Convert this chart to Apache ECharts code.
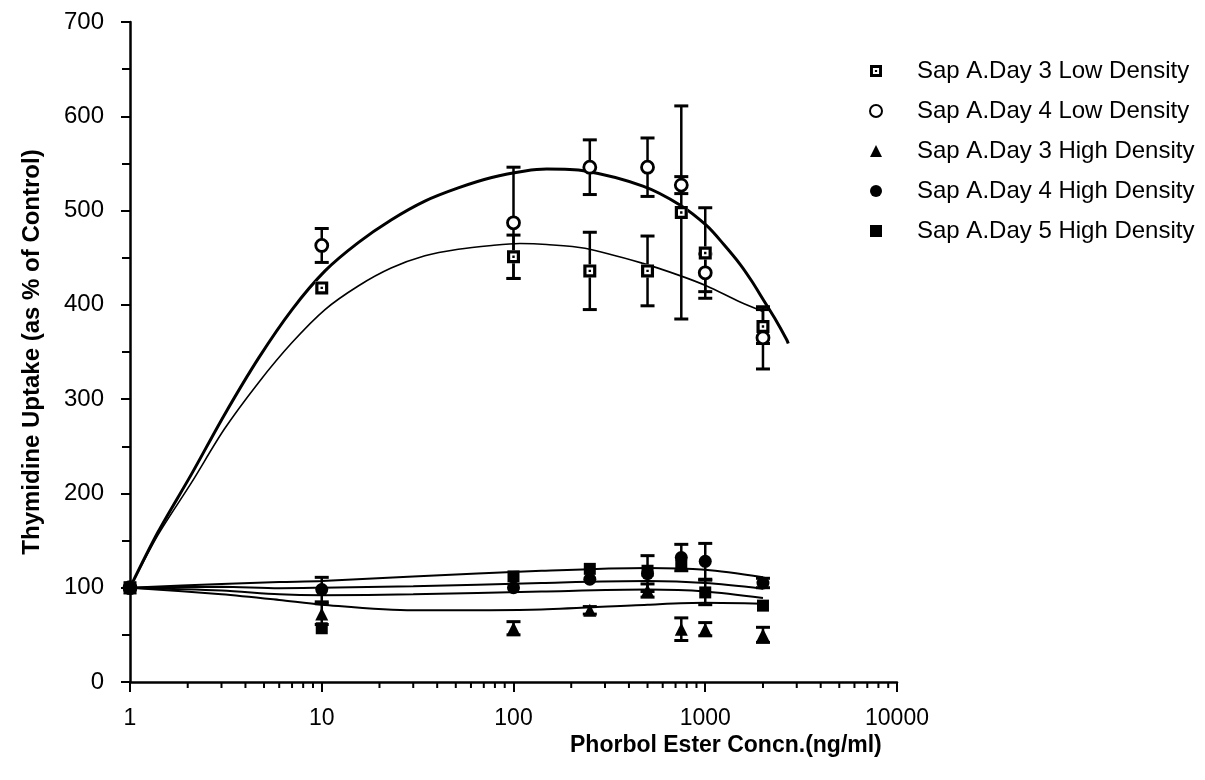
<!DOCTYPE html>
<html>
<head>
<meta charset="utf-8">
<script src="https://cdn.jsdelivr.net/npm/echarts@6/dist/echarts.min.js"></script>
<style>
  html, body { margin: 0; padding: 0; background: #fff; }
  #chart { width: 1205px; height: 780px; }
</style>
</head>
<body>
<div id="chart"></div>
<script>
// Phorbol ester concentrations (ng/ml)
const concentrations = [1, 10, 100, 250, 500, 750, 1000, 2000];

// Thymidine uptake (% of control) and error half-widths per series
const day3Low     = [100, 418, 451, 436, 436, 498, 455, 377];
const day3LowErr  = [0, 0, 23, 41, 37, 113, 48, 18];
const day4Low     = [100, 463, 487, 546, 546, 527, 434, 365];
const day4LowErr  = [0, 18, 59, 29, 31, 9, 20, 33];
const day3High    = [100, 72, 57, 76, 97, 56, 56, 50];
const day3HighErr = [0, 11, 7, 4, 7, 12, 7, 8];
const day4High    = [100, 98, 100, 109, 115, 132, 128, 105];
const day4HighErr = [0, 13, 0, 0, 19, 14, 19, 5];
const day5High    = [100, 57, 112, 120, 118, 123, 95, 81];
const day5HighErr = [0, 0, 0, 0, 0, 0, 13, 0];

// Fitted curves
const fitDay4LowX = [1, 1.4, 2.1, 3.1, 4.7, 7, 10.4, 15.5, 23, 34.5, 51.5, 77, 115, 149, 236, 473, 738, 1018, 1250, 1520, 1750, 2000, 2300, 2660, 2710];
const fitDay4LowY = [100, 159, 221, 283, 344, 395, 436, 466, 490, 510, 524, 535, 542, 544, 542, 526, 506, 484, 464, 443, 425, 406, 386, 363, 359];
const fitDay3LowX = [1, 1.4, 2.1, 3.1, 4.7, 7, 10.4, 15.5, 23, 34.5, 51.5, 77, 108, 149, 236, 473, 738, 1018, 1520, 2000];
const fitDay3LowY = [100, 156, 212, 268, 318, 360, 395, 420, 439, 452, 459, 463, 465, 464, 460, 444, 431, 420, 403, 393];
const fitHighX  = [1, 3, 6, 10, 30, 140, 500, 1000, 2000];
const fitHighA  = [100, 104, 106, 107, 112, 118, 121, 119, 111];
const fitHighB  = [100, 101, 99.5, 100, 101.5, 105, 107, 105, 99];
const fitHighC  = [100, 97, 93, 92, 93, 96, 98, 96, 89];
const fitHighD  = [100, 93, 87, 82, 76, 77, 82, 84, 83];

// Axis ticks
const yTicks = [0, 100, 200, 300, 400, 500, 600, 700];
const xMinorTicks = [2, 3, 4, 5, 6, 7, 8, 9, 20, 30, 40, 50, 60, 70, 80, 90,
  200, 300, 400, 500, 600, 700, 800, 900, 2000, 3000, 4000, 5000, 6000, 7000, 8000, 9000];

const names = [
  'Sap A.Day 3 Low Density',
  'Sap A.Day 4 Low Density',
  'Sap A.Day 3 High Density',
  'Sap A.Day 4 High Density',
  'Sap A.Day 5 High Density'
];

const FONT = 'Liberation Sans, Arial, Helvetica, sans-serif';
const squareDot = 'path://M0,0H13V13H0Z M3.2,3.2V9.8H9.8V3.2Z M5.3,5.3H7.7V7.7H5.3Z';

const pairs = (xs, ys) => xs.map((x, i) => [x, ys[i]]);
const errData = (ys, es) => concentrations
  .map((x, i) => [x, ys[i] - es[i], ys[i] + es[i], es[i]])
  .filter(d => d[3] > 0);

function errorBars(ys, es) {
  return {
    type: 'custom',
    silent: true,
    z: 3,
    data: errData(ys, es),
    encode: { x: 0, y: [1, 2] },
    renderItem: (params, api) => {
      const x = api.value(0);
      const lo = api.coord([x, api.value(1)]);
      const hi = api.coord([x, api.value(2)]);
      const hw = 7;
      return {
        type: 'group',
        children: [
          { type: 'line', shape: { x1: lo[0], y1: lo[1], x2: hi[0], y2: hi[1] }, style: { stroke: '#000', lineWidth: 2.5 } },
          { type: 'line', shape: { x1: hi[0] - hw, y1: hi[1], x2: hi[0] + hw, y2: hi[1] }, style: { stroke: '#000', lineWidth: 3 } },
          { type: 'line', shape: { x1: lo[0] - hw, y1: lo[1], x2: lo[0] + hw, y2: lo[1] }, style: { stroke: '#000', lineWidth: 3 } }
        ]
      };
    }
  };
}

function fitLine(xs, ys, width) {
  return {
    type: 'line',
    data: pairs(xs, ys),
    smooth: 0.3,
    showSymbol: false,
    symbol: 'none',
    silent: true,
    z: 2,
    lineStyle: { color: '#000', width: width, opacity: 1 }
  };
}

function markers(name, symbol, size, style, ys) {
  return {
    name: name,
    type: 'scatter',
    z: 5,
    symbol: symbol,
    symbolSize: size,
    itemStyle: Object.assign({ opacity: 1 }, style),
    data: pairs(concentrations, ys)
  };
}

const chart = echarts.init(document.getElementById('chart'), null, { renderer: 'canvas' });

chart.setOption({
  animation: false,
  backgroundColor: '#fff',
  textStyle: { fontFamily: FONT, color: '#000' },
  title: {
    text: 'Phorbol Ester Concn.(ng/ml)',
    left: 570,
    top: 734,
    padding: 0,
    textStyle: { fontFamily: FONT, fontSize: 23, fontWeight: 'bold', color: '#000' }
  },
  grid: { left: 130, right: 308, top: 22, bottom: 98, containLabel: false },
  legend: {
    data: names,
    orient: 'vertical',
    left: 864,
    top: 52,
    itemWidth: 12,
    itemHeight: 12,
    itemGap: 12,
    selectedMode: false,
    textStyle: { fontFamily: FONT, fontSize: 24, color: '#000', lineHeight: 28, padding: [0, 0, 0, 30] }
  },
  xAxis: {
    type: 'log',
    logBase: 10,
    min: 1,
    max: 10000,
    splitLine: { show: false },
    axisLine: { lineStyle: { color: '#000', width: 2.5 } },
    axisTick: { length: 10, lineStyle: { color: '#000', width: 2 } },
    axisLabel: {
      color: '#000', fontSize: 23, fontFamily: FONT, margin: 25,
      formatter: v => String(Math.round(v))
    }
  },
  yAxis: {
    type: 'value',
    min: yTicks[0],
    max: yTicks[yTicks.length - 1],
    interval: 100,
    name: 'Thymidine Uptake (as % of Control)',
    nameLocation: 'middle',
    nameGap: 86,
    nameTextStyle: { fontFamily: FONT, fontSize: 24, fontWeight: 'bold', color: '#000' },
    splitLine: { show: false },
    axisLine: { show: true, lineStyle: { color: '#000', width: 2.5 } },
    axisTick: { length: 9, lineStyle: { color: '#000', width: 2 } },
    minorTick: { show: true, splitNumber: 2, length: 8, lineStyle: { color: '#000', width: 2 } },
    axisLabel: { color: '#000', fontSize: 24, fontFamily: FONT, margin: 26 }
  },
  series: [
    // minor ticks on the log axis
    {
      type: 'custom',
      silent: true,
      clip: false,
      data: xMinorTicks.map(v => [v, 0]),
      encode: { x: 0, y: 1 },
      renderItem: (params, api) => {
        const p = api.coord([api.value(0), 0]);
        return { type: 'line', shape: { x1: p[0], y1: p[1], x2: p[0], y2: p[1] + 6 }, style: { stroke: '#000', lineWidth: 2 } };
      }
    },
    fitLine(fitDay4LowX, fitDay4LowY, 3),
    fitLine(fitDay3LowX, fitDay3LowY, 1.6),
    fitLine(fitHighX, fitHighA, 2),
    fitLine(fitHighX, fitHighB, 2),
    fitLine(fitHighX, fitHighC, 2),
    fitLine(fitHighX, fitHighD, 2),
    errorBars(day3Low, day3LowErr),
    errorBars(day4Low, day4LowErr),
    errorBars(day3High, day3HighErr),
    errorBars(day4High, day4HighErr),
    errorBars(day5High, day5HighErr),
    // white backing for the open square markers
    {
      type: 'scatter',
      silent: true,
      z: 4,
      symbol: 'rect',
      symbolSize: 13,
      itemStyle: { color: '#fff', opacity: 1 },
      data: pairs(concentrations, day3Low)
    },
    markers(names[0], squareDot, 13, { color: '#000' }, day3Low),
    markers(names[1], 'circle', 12, { color: '#fff', borderColor: '#000', borderWidth: 2.8 }, day4Low),
    markers(names[2], 'triangle', 13, { color: '#000' }, day3High),
    markers(names[3], 'circle', 13, { color: '#000' }, day4High),
    markers(names[4], 'rect', 12, { color: '#000' }, day5High)
  ]
});
</script>
</body>
</html>
